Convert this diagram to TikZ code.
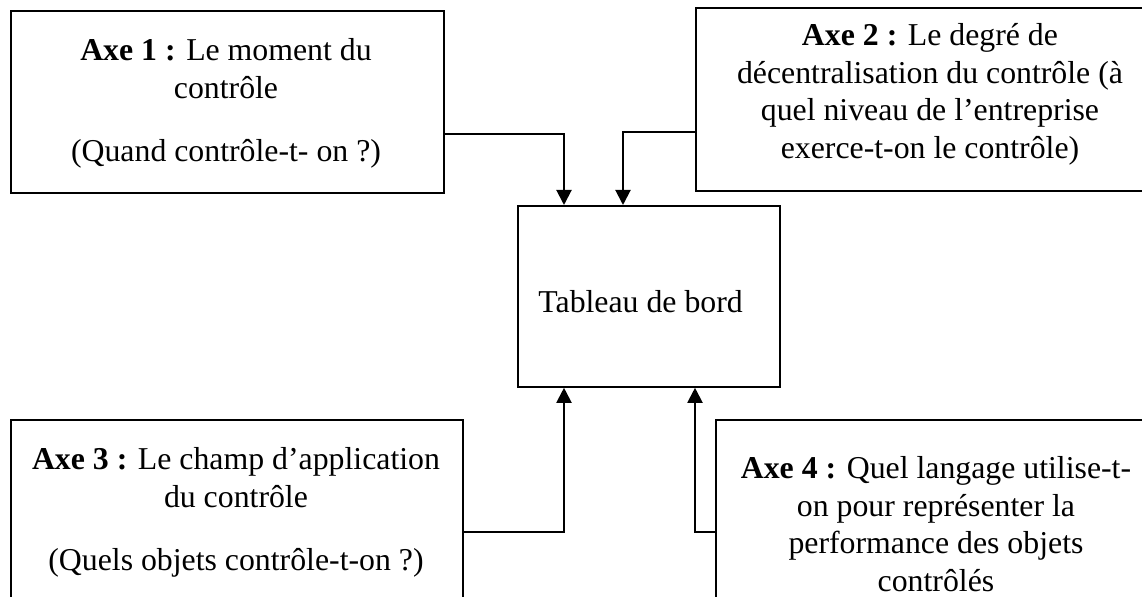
\documentclass[tikz,border=0pt]{standalone}
\usepackage{fontspec}
\setmainfont{Liberation Serif}
\usepackage{tikz}
\usetikzlibrary{arrows.meta, positioning, calc}

\begin{document}
\begin{tikzpicture}[x=0.5pt, y=-0.5pt,
        axebox/.style={draw, line width=0.9pt, anchor=north west, inner sep=0pt},
        axetext/.style={anchor=north, align=center, inner sep=0pt, font=\fontsize{15.9}{18.8}\selectfont},
        conn/.style={line width=1pt, -{Triangle[width=7.5pt, length=7.5pt]}}]
        \useasboundingbox (0,0) rectangle (1142,597);
        \clip (0,0) rectangle (1142,597);

        % Boxes
        \node[axebox, minimum width=216.5pt, minimum height=91pt] (ax1) at (10,10) {};
        \node[axebox, minimum width=235pt, minimum height=91.5pt] (ax2) at (695,7) {};
        \node[axebox, minimum width=131pt, minimum height=90.5pt] (tdb) at (517,205) {};
        \node[axebox, minimum width=226pt, minimum height=100pt] (ax3) at (10,419) {};
        \node[axebox, minimum width=221.5pt, minimum height=100pt] (ax4) at (715,419) {};

        % Texts
        \node[axetext] (ax1text) at (226,38) {\textbf{Axe 1 :} Le moment du\\contrôle\\[13pt](Quand contrôle-t- on ?)};
        \node[axetext] (ax2text) at (930,23) {\textbf{Axe 2 :} Le degré de\\décentralisation du contrôle (à\\quel niveau de l’entreprise\\exerce-t-on le contrôle)};
        \node[axetext] (ax3text) at (236,447) {\textbf{Axe 3 :} Le champ d’application\\du contrôle\\[13pt](Quels objets contrôle-t-on ?)};
        \node[axetext] (ax4text) at (936,456) {\textbf{Axe 4 :} Quel langage utilise-t-\\on pour représenter la\\performance des objets\\contrôlés};
        \node[anchor=base west, inner sep=0pt, font=\fontsize{15.9}{18.8}\selectfont] (tdbtext) at (538,313) {Tableau de bord};

        % Connectors
        \coordinate (k1) at (564,134);
        \coordinate (k2) at (623,132);
        \coordinate (k3) at (564,532);
        \coordinate (k4) at (695,532);
        \draw[conn] (ax1.east |- k1) -- (k1) -- (tdb.north -| k1);
        \draw[conn] (ax2.west |- k2) -- (k2) -- (tdb.north -| k2);
        \draw[conn] (ax3.east |- k3) -- (k3) -- (tdb.south -| k3);
        \draw[conn] (ax4.west |- k4) -- (k4) -- (tdb.south -| k4);

    \end{tikzpicture}
\end{document}
